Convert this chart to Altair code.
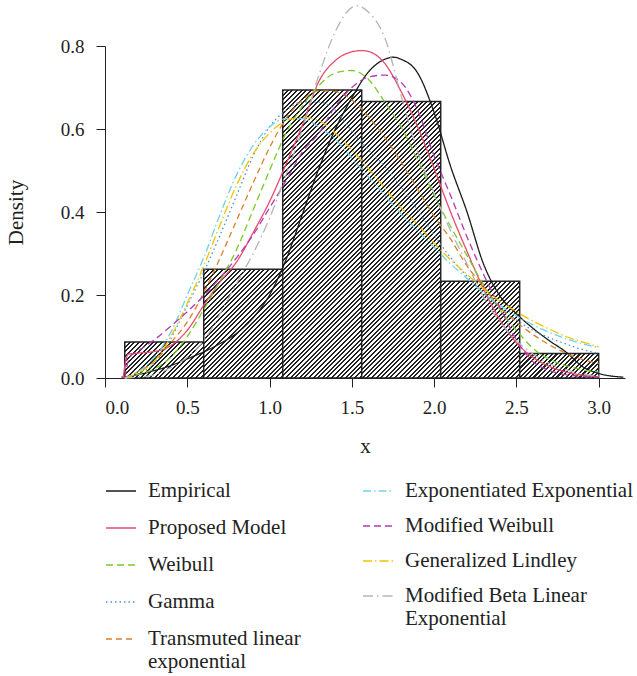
import altair as alt
import pandas as pd

# ---- histogram (density scale) ----
BIN_START = [0.12, 0.60, 1.08, 1.56, 2.04, 2.52]
BIN_END = [0.60, 1.08, 1.56, 2.04, 2.52, 3.00]
BIN_DENSITY = [0.087, 0.262, 0.694, 0.666, 0.233, 0.059]

# ---- fitted density curves ----
GRID = [0.12, 0.2, 0.3, 0.4, 0.5, 0.6, 0.7, 0.8, 0.9, 1.0, 1.1, 1.2, 1.3, 1.4, 1.5,
        1.6, 1.7, 1.8, 1.9, 2.0, 2.1, 2.2, 2.3, 2.4, 2.5, 2.6, 2.7, 2.8, 2.9, 3.0]

EMPIRICAL_X = [0.1, 0.2, 0.3, 0.4, 0.5, 0.6, 0.7, 0.8, 0.9, 1.0, 1.1, 1.2, 1.3, 1.4, 1.5, 1.6,
               1.7, 1.75, 1.8, 1.9, 2.0, 2.1, 2.2, 2.3, 2.4, 2.5, 2.6, 2.7, 2.8, 2.9, 3.0, 3.15]
EMPIRICAL_Y = [0.002, 0.008, 0.018, 0.03, 0.046, 0.063, 0.083, 0.108, 0.145, 0.2, 0.285, 0.395,
               0.505, 0.6, 0.675, 0.737, 0.768, 0.773, 0.768, 0.735, 0.64, 0.51, 0.40, 0.275,
               0.198, 0.155, 0.12, 0.09, 0.063, 0.028, 0.011, 0.002]

PROPOSED_X = [0.11, 0.14, 0.2, 0.3, 0.4, 0.5, 0.6, 0.7, 0.8, 0.9, 1.0, 1.1, 1.2, 1.3, 1.4, 1.5,
              1.56, 1.6, 1.7, 1.8, 1.9, 2.0, 2.1, 2.2, 2.3, 2.4, 2.5, 2.6, 2.7, 2.8, 2.9, 3.0]
PROPOSED_Y = [0.0, 0.057, 0.06, 0.064, 0.078, 0.115, 0.175, 0.232, 0.28, 0.35, 0.425, 0.515,
              0.61, 0.715, 0.765, 0.786, 0.789, 0.787, 0.758, 0.69, 0.605, 0.505, 0.40, 0.305,
              0.215, 0.14, 0.085, 0.05, 0.028, 0.015, 0.007, 0.003]

WEIBULL_Y = [0.0, 0.008, 0.022, 0.05, 0.1, 0.165, 0.235, 0.31, 0.405, 0.5, 0.59, 0.655, 0.705,
             0.735, 0.741, 0.72, 0.665, 0.605, 0.525, 0.44, 0.365, 0.295, 0.225, 0.165, 0.115,
             0.072, 0.045, 0.03, 0.02, 0.015]

GAMMA_Y = [0.0, 0.01, 0.035, 0.095, 0.175, 0.255, 0.345, 0.44, 0.535, 0.605, 0.645, 0.665,
           0.665, 0.645, 0.595, 0.55, 0.51, 0.46, 0.405, 0.345, 0.29, 0.245, 0.205, 0.17, 0.14,
           0.115, 0.097, 0.082, 0.069, 0.059]

TLE_Y = [0.0, 0.015, 0.04, 0.085, 0.135, 0.205, 0.29, 0.38, 0.47, 0.555, 0.625, 0.67, 0.692,
         0.69, 0.67, 0.63, 0.58, 0.52, 0.455, 0.39, 0.335, 0.27, 0.22, 0.17, 0.135, 0.105, 0.08,
         0.06, 0.045, 0.035]

EXPEXP_Y = [0.0, 0.015, 0.05, 0.11, 0.2, 0.29, 0.395, 0.49, 0.56, 0.605, 0.625, 0.625, 0.605,
            0.575, 0.53, 0.485, 0.44, 0.395, 0.355, 0.315, 0.275, 0.24, 0.205, 0.175, 0.15,
            0.128, 0.11, 0.095, 0.083, 0.073]

MOD_WEIBULL_X = [0.12, 0.15, 0.2, 0.3, 0.4, 0.5, 0.6, 0.7, 0.8, 0.9, 1.0, 1.1, 1.2, 1.3, 1.4, 1.5,
                 1.6, 1.7, 1.8, 1.9, 2.0, 2.1, 2.2, 2.3, 2.4, 2.5, 2.6, 2.7, 2.8, 2.9, 3.0]
MOD_WEIBULL_Y = [0.0, 0.05, 0.065, 0.092, 0.125, 0.16, 0.198, 0.242, 0.29, 0.345, 0.41, 0.475,
                 0.545, 0.59, 0.655, 0.7, 0.725, 0.73, 0.712, 0.645, 0.535, 0.44, 0.34, 0.25,
                 0.17, 0.092, 0.04, 0.018, 0.008, 0.004, 0.002]

GEN_LINDLEY_Y = [0.0, 0.012, 0.04, 0.1, 0.18, 0.27, 0.37, 0.465, 0.54, 0.59, 0.62, 0.628, 0.62,
                 0.59, 0.55, 0.505, 0.458, 0.41, 0.37, 0.325, 0.285, 0.25, 0.215, 0.185, 0.16,
                 0.137, 0.118, 0.1, 0.087, 0.075]

MBLE_X = [0.12, 0.2, 0.3, 0.4, 0.5, 0.6, 0.7, 0.8, 0.9, 1.0, 1.1, 1.2, 1.3, 1.4, 1.5, 1.53, 1.6,
          1.7, 1.8, 1.9, 2.0, 2.1, 2.2, 2.3, 2.4, 2.5, 2.6, 2.7, 2.8, 2.9, 3.0]
MBLE_Y = [0.0, 0.002, 0.008, 0.025, 0.05, 0.09, 0.155, 0.228, 0.3, 0.385, 0.49, 0.6, 0.73, 0.835,
          0.893, 0.897, 0.882, 0.82, 0.68, 0.545, 0.445, 0.355, 0.275, 0.195, 0.135, 0.09, 0.058,
          0.035, 0.02, 0.01, 0.005]

# (name, x, y, colour, dash) -- one list per legend column
LEFT_MODELS = [
    ("Empirical", EMPIRICAL_X, EMPIRICAL_Y, "#1a1a1a", [1, 0]),
    ("Proposed Model", PROPOSED_X, PROPOSED_Y, "#e84a6c", [1, 0]),
    ("Weibull", GRID, WEIBULL_Y, "#78cc2c", [7, 4]),
    ("Gamma", GRID, GAMMA_Y, "#4a90d6", [1.5, 3]),
    ("Transmuted linear exponential", GRID, TLE_Y, "#d9802c", [6, 4]),
]
RIGHT_MODELS = [
    ("Exponentiated Exponential", GRID, EXPEXP_Y, "#6fd3e3", [8, 3, 1.5, 3]),
    ("Modified Weibull", MOD_WEIBULL_X, MOD_WEIBULL_Y, "#b23bb5", [7, 4]),
    ("Generalized Lindley", GRID, GEN_LINDLEY_Y, "#f2c200", [9, 3, 1.5, 3]),
    ("Modified Beta Linear Exponential", MBLE_X, MBLE_Y, "#b5b5b5", [10, 4, 1.5, 4]),
]


def curve_frame(models):
    rows = []
    for name, xs, ys, _, _ in models:
        rows += [{"model": name, "x": a, "y": b} for a, b in zip(xs, ys)]
    return pd.DataFrame(rows)


hist = pd.DataFrame({"start": BIN_START, "end": BIN_END, "density": BIN_DENSITY,
                     "base": [0.0] * len(BIN_START)})

W, H = 520, 332
X_MAX, Y_MAX = 3.16, 0.8
INK = "#222222"
FONT = "Liberation Serif"

x_scale = alt.Scale(domain=[0, X_MAX], nice=False, zero=False)
y_scale = alt.Scale(domain=[0, Y_MAX], nice=False)
x_axis = alt.Axis(title="x", values=[0, 0.5, 1.0, 1.5, 2.0, 2.5, 3.0], format=".1f",
                  labelPadding=11, titlePadding=18)
y_axis = alt.Axis(title="Density", values=[0, 0.2, 0.4, 0.6, 0.8], format=".1f",
                  labelPadding=12, titlePadding=34)


def hatch(width_px, height_px, period=4.6, frac=0.45):
    """Diagonal '/' stripes as a hard-stop linear gradient across the bar."""
    span = width_px + height_px
    s = span / (width_px ** 2 + height_px ** 2)
    stops = []
    k = 0
    while k * period < span:
        a = k * period / span
        b = min((k + frac) * period / span, 1.0)
        c = min((k + 1) * period / span, 1.0)
        stops += [alt.GradientStop(offset=a, color=INK), alt.GradientStop(offset=b, color=INK),
                  alt.GradientStop(offset=b, color="white"), alt.GradientStop(offset=c, color="white")]
        k += 1
    return alt.LinearGradient(gradient="linear", stops=stops,
                              x1=0, y1=0, x2=s * width_px, y2=s * height_px)


layers = []
for i in range(len(hist)):
    row = hist.iloc[[i]]
    wpx = (BIN_END[i] - BIN_START[i]) * W / X_MAX
    hpx = BIN_DENSITY[i] * H / Y_MAX
    layers.append(
        alt.Chart(row).mark_rect(fill=hatch(wpx, hpx), stroke=INK, strokeWidth=1.5).encode(
            x=alt.X("start:Q", scale=x_scale, axis=x_axis),
            x2="end:Q",
            y=alt.Y("density:Q", scale=y_scale, axis=y_axis),
            y2="base:Q",
        )
    )

LABEL_EXPR = ("datum.label == 'Transmuted linear exponential' ? ['Transmuted linear', 'exponential'] : "
              "datum.label == 'Modified Beta Linear Exponential' ? ['Modified Beta Linear', 'Exponential'] : "
              "datum.label")


def curve_layer(models, legend_x, row_padding):
    names = [m[0] for m in models]
    legend = alt.Legend(
        title=None, orient="none", legendX=legend_x, legendY=429, direction="vertical",
        symbolType="stroke", symbolSize=900, symbolStrokeWidth=1.5,
        labelFont=FONT, labelFontSize=21, labelColor=INK, labelLimit=0, labelOffset=11,
        rowPadding=row_padding, padding=0, labelExpr=LABEL_EXPR,
    )
    return alt.Chart(curve_frame(models)).mark_line(strokeWidth=1.3, interpolate="monotone").encode(
        x=alt.X("x:Q", scale=x_scale, axis=x_axis),
        y=alt.Y("y:Q", scale=y_scale, axis=y_axis),
        color=alt.Color("model:N", scale=alt.Scale(domain=names, range=[m[3] for m in models]),
                        legend=legend),
        strokeDash=alt.StrokeDash("model:N",
                                  scale=alt.Scale(domain=names, range=[m[4] for m in models]),
                                  legend=legend),
    )


layers.append(curve_layer(LEFT_MODELS, 0, 11))
layers.append(curve_layer(RIGHT_MODELS, 257, 9))

chart = (
    alt.layer(*layers)
    .resolve_scale(color="independent", strokeDash="independent")
    .properties(width=W, height=H, autosize=alt.AutoSizeParams(type="none"),
                padding={"left": 105, "top": 46, "right": 12, "bottom": 298})
    .configure_view(stroke=None)
    .configure_axis(
        grid=False, domainColor=INK, tickColor=INK, tickSize=9, domainWidth=1, tickWidth=1,
        labelFont=FONT, labelFontSize=19, labelColor=INK,
        titleFont=FONT, titleFontSize=21, titleColor=INK, titleFontWeight="normal",
    )
)

chart.save("out.html", embed_options={"renderer": "svg", "actions": False})
